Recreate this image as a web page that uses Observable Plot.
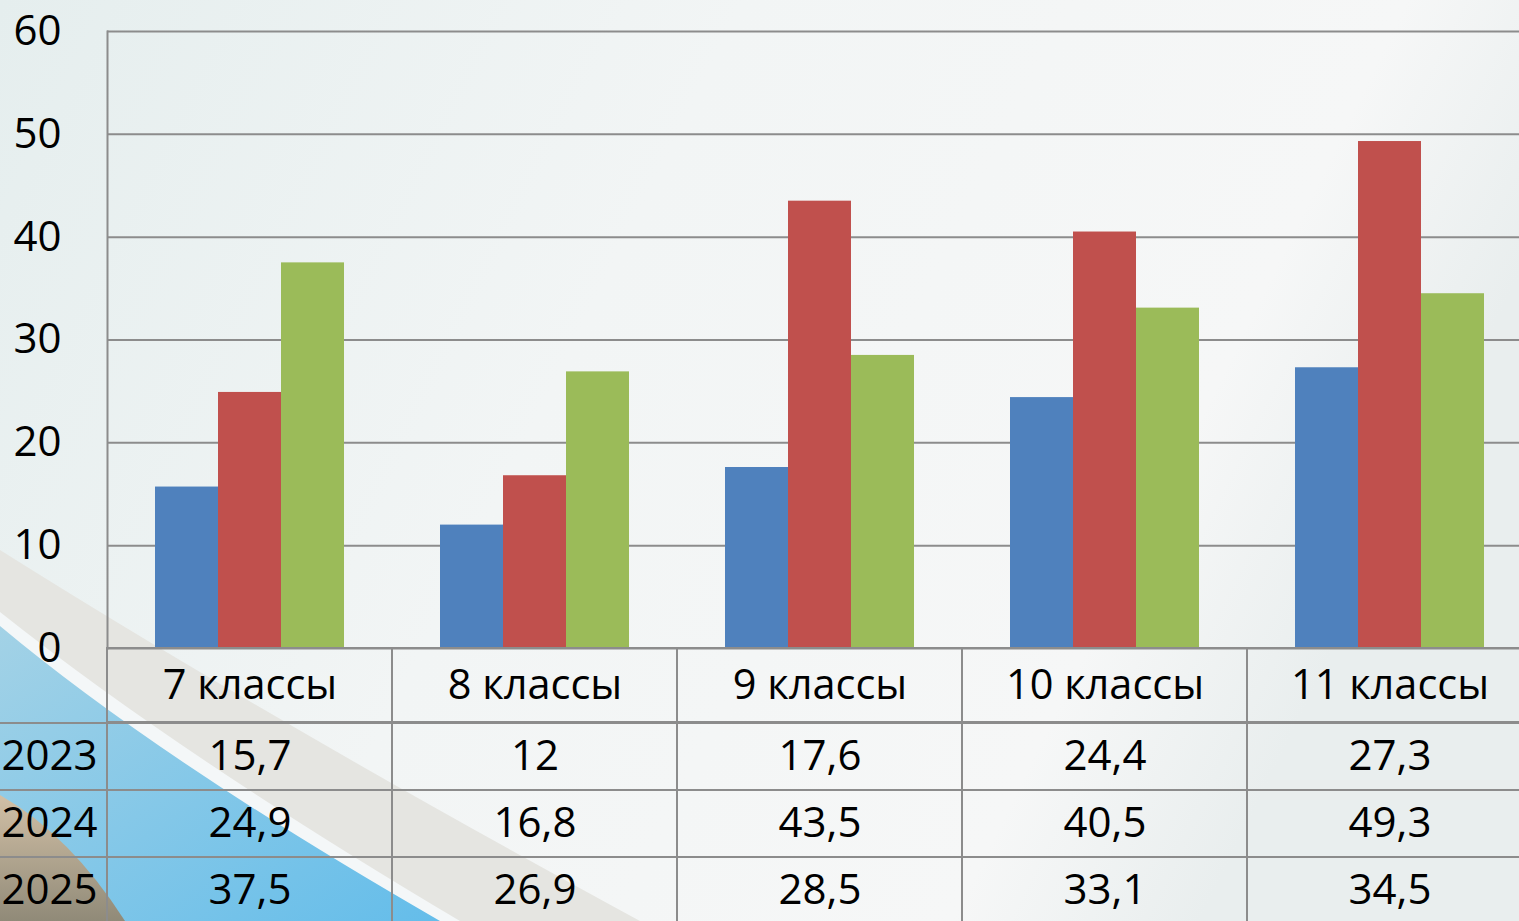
<!DOCTYPE html>
<html>
<head>
<meta charset="utf-8">
<script src="https://cdn.jsdelivr.net/npm/d3@7"></script>
<script src="https://cdn.jsdelivr.net/npm/@observablehq/plot@0.6"></script>
<style>
html, body { margin: 0; padding: 0; width: 1519px; height: 921px; overflow: hidden; }
body {
  font-family: "Open Sans", sans-serif;
  background-color: #eef2f2;
  background-image: url("data:image/svg+xml;utf8,<svg xmlns='http://www.w3.org/2000/svg' width='1519' height='921'><defs><linearGradient id='bg' x1='0' y1='0' x2='1' y2='0.3'><stop offset='0' stop-color='%23e5eeee'/><stop offset='0.45' stop-color='%23f2f5f5'/><stop offset='0.85' stop-color='%23f6f7f7'/><stop offset='1' stop-color='%23e9eeee'/></linearGradient><linearGradient id='bl' x1='0' y1='0' x2='1' y2='1'><stop offset='0' stop-color='%23a3d2e6'/><stop offset='1' stop-color='%2364bdea'/></linearGradient><linearGradient id='tn' x1='0' y1='0' x2='0' y2='1'><stop offset='0' stop-color='%23d2c0a6'/><stop offset='1' stop-color='%23908a78'/></linearGradient></defs><rect width='1519' height='921' fill='url(%23bg)'/><path d='M0,550 Q270,720 640,921 L0,921Z' fill='%23e5e5e1'/><path d='M0,612 Q180,755 460,921 L0,921Z' fill='%23f4f7f8'/><path d='M0,626 Q160,760 440,921 L0,921Z' fill='url(%23bl)'/><path d='M0,795 Q70,835 125,921 L0,921Z' fill='url(%23tn)'/></svg>");
  background-repeat: no-repeat;
}
#chart { position: relative; width: 1519px; height: 921px; overflow: hidden; }
#chart svg { display: block; background: transparent; overflow: visible; }
</style>
</head>
<body>
<div id="chart"></div>
<script>
// ---- data ----
const categories = ["7 классы", "8 классы", "9 классы", "10 классы", "11 классы"];
const years = ["2023", "2024", "2025"];
const values2023 = [15.7, 12, 17.6, 24.4, 27.3];
const values2024 = [24.9, 16.8, 43.5, 40.5, 49.3];
const values2025 = [37.5, 26.9, 28.5, 33.1, 34.5];
const seriesColors = ["#4F81BD", "#C0504D", "#9BBB59"];
const yTicks = [0, 10, 20, 30, 40, 50, 60];

const seriesByYear = {"2023": values2023, "2024": values2024, "2025": values2025};
const data = years.flatMap(y => categories.map((c, i) => ({category: c, year: y, value: seriesByYear[y][i]})));
const fmt = v => String(v).replace(".", ",");

const W = 1519;
const lineColor = "#8c8c8c";
const common = {
  width: W,
  marginLeft: 106,
  marginRight: -13,
  style: {background: "transparent", fontFamily: "'Open Sans', sans-serif", color: "#000", overflow: "visible"}
};

// ---- bar chart ----
const bars = Plot.plot({
  ...common,
  height: 648,
  marginTop: 31,
  marginBottom: 0,
  fx: {domain: categories, padding: 0, axis: null},
  x: {domain: years, paddingInner: 0, paddingOuter: 0.75, axis: null},
  y: {domain: [0, 60], axis: null},
  color: {domain: years, range: seriesColors},
  marks: [
    Plot.gridY(yTicks, {stroke: lineColor, strokeOpacity: 1, strokeWidth: 2}),
    Plot.barY(data, {fx: "category", x: "year", y: "value", fill: "year"}),
    Plot.axisY(yTicks, {anchor: "left", tickSize: 0, tickPadding: 46, fontSize: 42, fill: "#000", label: null}),
    Plot.frame({anchor: "left", facetAnchor: "left", stroke: lineColor, strokeWidth: 2})
  ]
});

// ---- table header row ----
const header = Plot.plot({
  ...common,
  height: 74,
  marginTop: 0,
  marginBottom: 0,
  x: {domain: categories, padding: 0, axis: null},
  marks: [
    Plot.cell(categories, {x: d => d, fill: "none", stroke: lineColor, strokeWidth: 2}),
    Plot.text(categories, {x: d => d, text: d => d, fontSize: 41.5, fill: "#000"})
  ]
});

// ---- table body ----
const body = Plot.plot({
  ...common,
  height: 202,
  marginTop: 0,
  marginBottom: 0,
  x: {domain: categories, padding: 0, axis: null},
  y: {domain: years, padding: 0, axis: null},
  marks: [
    Plot.cell(years, {y: d => d, fill: "none", stroke: lineColor, strokeWidth: 2, insetLeft: -110}),
    Plot.cell(data, {x: "category", y: "year", fill: "none", stroke: lineColor, strokeWidth: 2}),
    Plot.text(data, {x: "category", y: "year", text: d => fmt(d.value), fontSize: 42, fill: "#000"}),
    Plot.axisY(years, {anchor: "left", tickSize: 0, tickPadding: 9, fontSize: 42, fill: "#000", label: null})
  ]
});

const chart = document.getElementById("chart");
chart.append(bars, header, body);
</script>
</body>
</html>
